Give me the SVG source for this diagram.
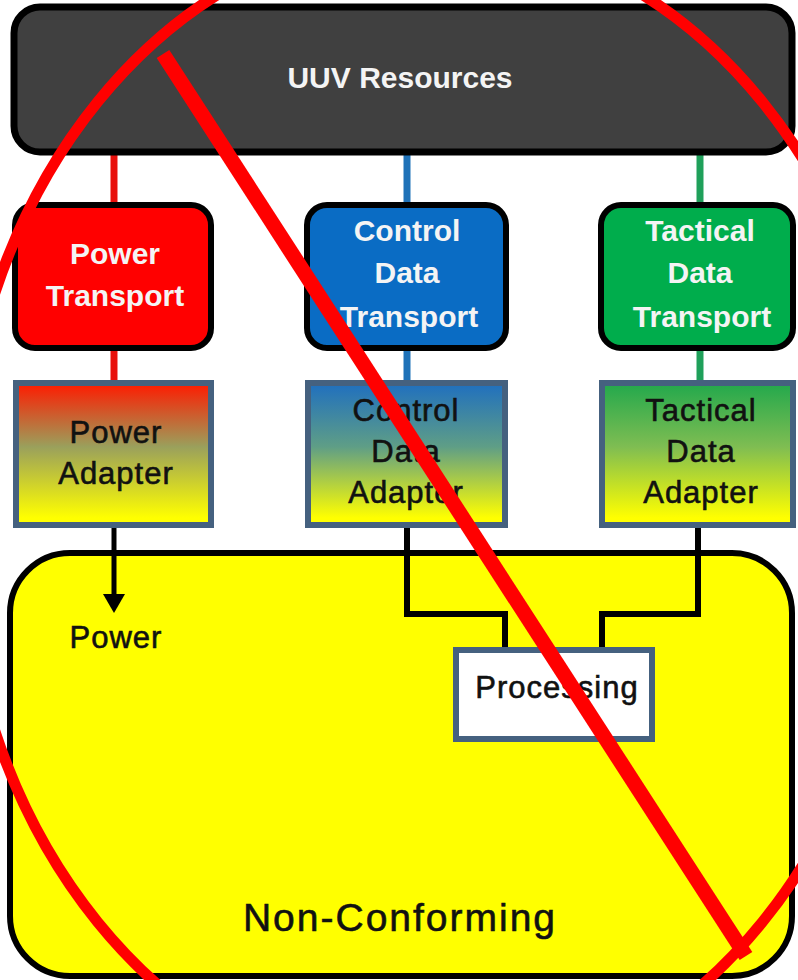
<svg xmlns="http://www.w3.org/2000/svg" width="798" height="980" viewBox="0 0 798 980">
<style>
.bw{font-family:"Liberation Sans",Arial,sans-serif;font-weight:bold;font-size:30px;fill:#f4f4f4;text-anchor:middle}
.bk{font-family:"Liberation Sans",Arial,sans-serif;font-size:31px;fill:#111;stroke:#111;stroke-width:0.6px;text-anchor:middle;letter-spacing:1px}
.tr{stroke:#000;stroke-width:6}
.ad{stroke:#45617f;stroke-width:6}
.wire{fill:none;stroke:#000;stroke-width:6}
</style>
<defs>
<linearGradient id="gP" x1="0" y1="0" x2="0" y2="1">
<stop offset="0" stop-color="#ff1a00"/><stop offset="0.45" stop-color="#9aa05c"/><stop offset="0.95" stop-color="#ffff00"/>
</linearGradient>
<linearGradient id="gC" x1="0" y1="0" x2="0" y2="1">
<stop offset="0" stop-color="#1f6fbf"/><stop offset="0.45" stop-color="#5f9e86"/><stop offset="0.95" stop-color="#ffff00"/>
</linearGradient>
<linearGradient id="gT" x1="0" y1="0" x2="0" y2="1">
<stop offset="0" stop-color="#22a84c"/><stop offset="0.45" stop-color="#7fbd52"/><stop offset="0.95" stop-color="#ffff00"/>
</linearGradient>
</defs>
<rect width="798" height="980" fill="#fff"/>

<g id="nonconforming">
<rect x="10" y="553" width="782" height="423" rx="60" fill="#ffff00" stroke="#000" stroke-width="6"/>
<text x="400" y="931" font-family="Liberation Sans,Arial,sans-serif" font-size="39" fill="#111" stroke="#111" stroke-width="0.6" text-anchor="middle" letter-spacing="2">Non-Conforming</text>
</g>

<g id="connectors">
<line x1="114" y1="155" x2="114" y2="205" stroke="#e8100c" stroke-width="7"/>
<line x1="407" y1="155" x2="407" y2="205" stroke="#1f72b8" stroke-width="7"/>
<line x1="700" y1="155" x2="700" y2="205" stroke="#1fa05a" stroke-width="7"/>
<line x1="114" y1="350" x2="114" y2="381" stroke="#e8100c" stroke-width="7"/>
<line x1="407" y1="350" x2="407" y2="381" stroke="#1f72b8" stroke-width="7"/>
<line x1="700" y1="350" x2="700" y2="381" stroke="#1fa05a" stroke-width="7"/>
<line x1="114" y1="528" x2="114" y2="596" stroke="#000" stroke-width="5"/>
<path d="M103,594 L125,594 L114,613 z" fill="#000"/>
<path class="wire" d="M407,528 V614 H505 V648"/>
<path class="wire" d="M698,528 V614 H602 V648"/>
</g>

<g id="uuv">
<rect x="14" y="7" width="778" height="145" rx="26" fill="#404040" stroke="#000" stroke-width="7"/>
<text class="bw" x="400" y="88">UUV Resources</text>
</g>

<g id="power-transport">
<rect x="15" y="205" width="196" height="143" rx="20" fill="#ff0000" class="tr"/>
<text class="bw" x="115" y="264">Power</text>
<text class="bw" x="115" y="306">Transport</text>
</g>
<g id="control-transport">
<rect x="307" y="205" width="199" height="143" rx="20" fill="#0a6cc4" class="tr"/>
<text class="bw" x="407" y="241">Control</text>
<text class="bw" x="407" y="283">Data</text>
<text class="bw" x="409" y="327">Transport</text>
</g>
<g id="tactical-transport">
<rect x="601" y="205" width="192" height="143" rx="20" fill="#00ad4c" class="tr"/>
<text class="bw" x="700" y="241">Tactical</text>
<text class="bw" x="700" y="283">Data</text>
<text class="bw" x="702" y="327">Transport</text>
</g>

<g id="power-adapter">
<rect x="16" y="383" width="195" height="142" fill="url(#gP)" class="ad"/>
<text class="bk" x="116" y="443">Power</text>
<text class="bk" x="116" y="484">Adapter</text>
</g>
<g id="control-adapter">
<rect x="308" y="383" width="197" height="142" fill="url(#gC)" class="ad"/>
<text class="bk" x="406" y="421">Control</text>
<text class="bk" x="406" y="462">Data</text>
<text class="bk" x="406" y="503">Adapter</text>
</g>
<g id="tactical-adapter">
<rect x="602" y="383" width="191" height="142" fill="url(#gT)" class="ad"/>
<text class="bk" x="701" y="421">Tactical</text>
<text class="bk" x="701" y="462">Data</text>
<text class="bk" x="701" y="503">Adapter</text>
</g>

<g id="power-label">
<text class="bk" x="116" y="648">Power</text>
</g>

<g id="processing">
<rect x="456" y="650" width="196" height="89" fill="#fff" class="ad"/>
<text class="bk" x="557" y="698">Processing</text>
</g>

<g id="cross-out">
<ellipse cx="430" cy="512" rx="470" ry="580" fill="none" stroke="#ff0000" stroke-width="11"/>
<line x1="163" y1="54" x2="746" y2="956" stroke="#ff0000" stroke-width="15"/>
</g>
</svg>
